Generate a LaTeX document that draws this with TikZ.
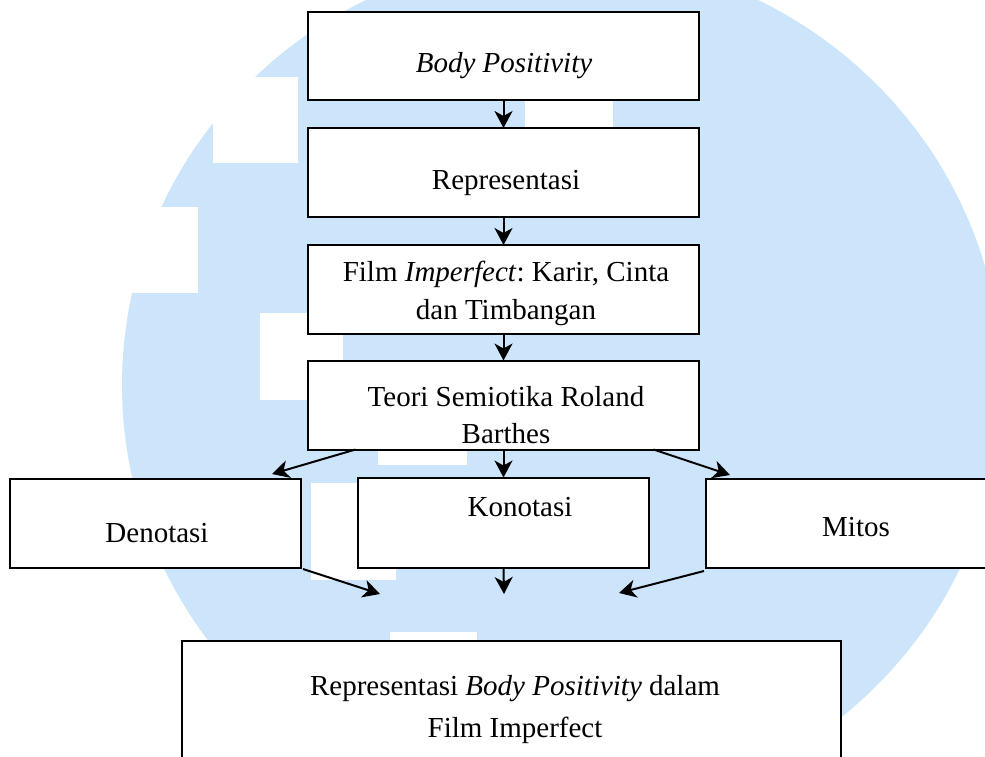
\documentclass[tikz,border=0pt]{standalone}
\usepackage{fontspec}
\setmainfont{Liberation Serif}
\frenchspacing
\usetikzlibrary{arrows.meta}
\definecolor{wmblue}{RGB}{205,229,250}
\tikzset{
  box/.style={draw=black, fill=white, line width=2pt, inner sep=0pt, outer sep=0pt, rectangle},
  txt/.style={anchor=base, inner sep=0pt, font=\fontsize{29}{38}\selectfont},
  arr/.style={line width=2pt, -{Stealth[length=17pt,width=18pt,inset=5pt]}},
  cut/.style={fill=white}
}
\begin{document}
\begin{tikzpicture}[x=1pt, y=-1pt]
\useasboundingbox (0,0) rectangle (985,756);
% watermark
\fill[wmblue] (562,385) ellipse [x radius=440pt, y radius=430pt];
\fill[cut] (213,77) rectangle (298,163);
\fill[cut] (100,207) rectangle (198,293);
\fill[cut] (260,313) rectangle (343,400);
\fill[cut] (311,483) rectangle (396,580);
\fill[cut] (378,445) rectangle (467,465);
\fill[cut] (390,632) rectangle (477,660);
\fill[cut] (525,100) rectangle (613,128);
% boxes
\node[box, minimum width=391pt, minimum height=88pt] (body) at (503.5,56) {};
\node[box, minimum width=391pt, minimum height=89pt] (repr) at (503.5,172.5) {};
\node[box, minimum width=391pt, minimum height=89pt] (film) at (503.5,289.5) {};
\node[box, minimum width=391pt, minimum height=89pt] (teori) at (503.5,405) {};
\node[box, minimum width=291pt, minimum height=89pt] (deno) at (155.5,523.5) {};
\node[box, minimum width=291pt, minimum height=90pt] (kono) at (503.5,522.5) {};
\node[box, minimum width=299pt, minimum height=89pt] (mitos) at (855.5,523.5) {};
\node[box, minimum width=659pt, minimum height=159pt] (hasil) at (511.5,720.5) {};
% texts
\node[txt] (tbody) at (504,72) {\itshape Body Positivity};
\node[txt] (trepr) at (506,189) {Representasi};
\node[txt] (tfilma) at (506,281) {Film \textit{Imperfect}: Karir, Cinta};
\node[txt] (tfilmb) at (506,319) {dan Timbangan};
\node[txt] (tteoria) at (506,406) {Teori Semiotika Roland};
\node[txt] (tteorib) at (506,443) {Barthes};
\node[txt] (tdeno) at (157,542) {Denotasi};
\node[txt] (tkono) at (520,516) {Konotasi};
\node[txt] (tmitos) at (856,536) {Mitos};
\node[txt] (thasila) at (515,695) {Representasi \textit{Body Positivity} dalam};
\node[txt] (thasilb) at (515,737) {Film Imperfect};
% free arrow ends
\coordinate (pd) at (380,594);
\coordinate (pk) at (504,594);
\coordinate (pm) at (619,593);
% arrows
\draw[arr] (body.south) -- (repr.north);
\draw[arr] (repr.south) -- (film.north);
\draw[arr] (film.south) -- (teori.north);
\draw[arr] (teori.south) -- (kono.north);
\draw[arr] ([xshift=-148pt]teori.south) -- ([xshift=-29pt,yshift=5pt]deno.north east);
\draw[arr] ([xshift=150pt]teori.south) -- ([xshift=24pt,yshift=4pt]mitos.north west);
\draw[arr] ([xshift=2pt,yshift=-1pt]deno.south east) -- (pd);
\draw[arr] (kono.south) -- (pk);
\draw[arr] ([xshift=-2pt,yshift=-3pt]mitos.south west) -- (pm);
\end{tikzpicture}
\end{document}
